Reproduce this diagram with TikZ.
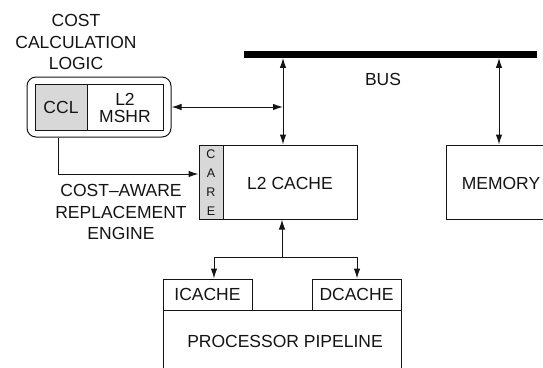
\documentclass[tikz,border=0pt]{standalone}
\usepackage{fontspec}
\setmainfont{Liberation Sans}
\usetikzlibrary{arrows.meta}
\definecolor{ink}{HTML}{141414}
\definecolor{shade}{HTML}{D8D8D8}
\tikzset{
  box/.style={draw=ink, line width=1pt, rectangle, inner sep=0pt, minimum height=#1},
  lbl/.style={text=ink, align=center, inner sep=0pt, font=\fontsize{17.5}{21.5}\selectfont},
  wire/.style={draw=ink, line width=1pt},
  arr/.style={wire, -{Latex[length=10pt,width=6.5pt]}},
  darr/.style={wire, {Latex[length=10pt,width=6.5pt]}-{Latex[length=10pt,width=6.5pt]}},
}
\begin{document}
\begin{tikzpicture}[x=1pt,y=-1pt]
\useasboundingbox (0,0) rectangle (543,367);
\clip (0,0) rectangle (543,367);
% texts
\node[lbl] (cclt) at (76,42) {COST\\CALCULATION\\LOGIC};
\node[lbl] (caret) at (121,212) {COST–AWARE\\REPLACEMENT\\ENGINE};
\node[lbl] (bust) at (383,79) {BUS};
% CCL group
\node[draw=ink, line width=1pt, rounded corners=9pt, minimum width=144pt, minimum height=60pt, inner sep=0pt] (outer) at (99,107) {};
\node[box=46pt, fill=shade, minimum width=52pt] (ccl) at (61,107) {};
\node[lbl] at (ccl) {CCL};
\node[box=46pt, minimum width=76pt] (mshr) at (125,107) {};
\node[lbl, font=\fontsize{17.5}{17}\selectfont] at (125,108) {L2\\MSHR};
% bus
\node[fill=black, draw=none, inner sep=0pt, minimum width=293pt, minimum height=6.5pt] (bus) at (390.5,54.5) {};
% L2 cache
\node[box=74pt, fill=shade, minimum width=24pt] (care) at (211,182) {};
\node[text=ink, inner sep=0pt, font=\fontsize{12.5}{19}\selectfont, align=center] at (211,183) {C\\A\\R\\E};
\node[box=74pt, minimum width=134pt] (l2) at (290,182) {};
\node[lbl] at (290,183) {L2 CACHE};
% memory
\node[box=74pt, minimum width=120pt, anchor=west] (mem) at (446,182) {};
\node[lbl] at (501,183) {MEMORY};
% processor
\node[box=31pt, minimum width=89pt] (ic) at (207.5,294.5) {};
\node[lbl] at (ic) {ICACHE};
\node[box=31pt, minimum width=89pt] (dc) at (356.5,294.5) {};
\node[lbl] at (dc) {DCACHE};
\node[box=70pt, minimum width=238pt, anchor=north west] (pipe) at (163,310) {};
\node[lbl] at (285,341) {PROCESSOR PIPELINE};
% connectors
\coordinate (j) at (283,107);
\draw[darr] (bus.south -| j) -- (l2.north -| j);
\draw[darr] (outer.east) -- (j);
\draw[darr] (bus.south -| 499,0) -- (mem.north -| 499,0);
\coordinate (c1) at (58,174);
\draw[arr] (outer.south -| c1) -- (c1) -- (care.west |- c1);
\coordinate (s) at (282,257);
\draw[arr] (s) -- (l2.south -| s);
\draw[wire] (214,257) -- (357,257);
\draw[arr] (214,257) -- (ic.north -| 214,0);
\draw[arr] (357,257) -- (dc.north -| 357,0);
\end{tikzpicture}
\end{document}
